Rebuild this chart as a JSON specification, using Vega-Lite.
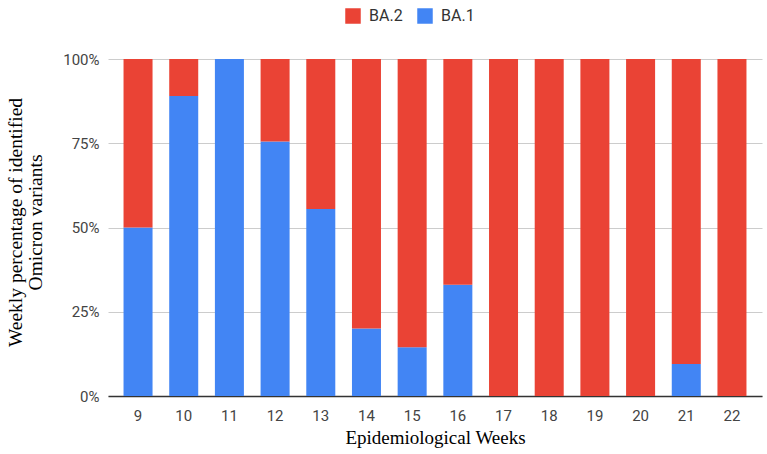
{
  "$schema": "https://vega.github.io/schema/vega-lite/v6.json",
  "width": 654,
  "height": 337,
  "autosize": {"type": "none"},
  "padding": {"left": 108, "top": 59, "right": 5, "bottom": 58},
  "background": "white",
  "data": {
    "values": [
      {"week": "9", "variant": "BA.1", "share": 0.50},
      {"week": "9", "variant": "BA.2", "share": 0.50},
      {"week": "10", "variant": "BA.1", "share": 0.89},
      {"week": "10", "variant": "BA.2", "share": 0.11},
      {"week": "11", "variant": "BA.1", "share": 1.00},
      {"week": "11", "variant": "BA.2", "share": 0.00},
      {"week": "12", "variant": "BA.1", "share": 0.755},
      {"week": "12", "variant": "BA.2", "share": 0.245},
      {"week": "13", "variant": "BA.1", "share": 0.555},
      {"week": "13", "variant": "BA.2", "share": 0.445},
      {"week": "14", "variant": "BA.1", "share": 0.20},
      {"week": "14", "variant": "BA.2", "share": 0.80},
      {"week": "15", "variant": "BA.1", "share": 0.145},
      {"week": "15", "variant": "BA.2", "share": 0.855},
      {"week": "16", "variant": "BA.1", "share": 0.33},
      {"week": "16", "variant": "BA.2", "share": 0.67},
      {"week": "17", "variant": "BA.1", "share": 0.00},
      {"week": "17", "variant": "BA.2", "share": 1.00},
      {"week": "18", "variant": "BA.1", "share": 0.00},
      {"week": "18", "variant": "BA.2", "share": 1.00},
      {"week": "19", "variant": "BA.1", "share": 0.00},
      {"week": "19", "variant": "BA.2", "share": 1.00},
      {"week": "20", "variant": "BA.1", "share": 0.00},
      {"week": "20", "variant": "BA.2", "share": 1.00},
      {"week": "21", "variant": "BA.1", "share": 0.095},
      {"week": "21", "variant": "BA.2", "share": 0.905},
      {"week": "22", "variant": "BA.1", "share": 0.00},
      {"week": "22", "variant": "BA.2", "share": 1.00}
    ]
  },
  "mark": {"type": "bar"},
  "encoding": {
    "x": {
      "field": "week",
      "type": "ordinal",
      "sort": null,
      "scale": {"paddingInner": 0.365, "paddingOuter": 0.34},
      "axis": {
        "title": "Epidemiological Weeks",
        "titleFontSize": 19,
        "labelAngle": 0,
        "ticks": false,
        "domainColor": "#333333",
        "domainWidth": 1.5,
        "labelPadding": 12,
        "titlePadding": 5
      }
    },
    "y": {
      "field": "share",
      "type": "quantitative",
      "stack": "zero",
      "scale": {"domain": [0, 1], "nice": false},
      "axis": {
        "title": ["Weekly percentage of identified", "Omicron variants"],
        "titleFontSize": 19.5,
        "format": ".0%",
        "values": [0, 0.25, 0.5, 0.75, 1],
        "ticks": false,
        "domain": false,
        "labelPadding": 9,
        "titleAngle": -90,
        "titleX": -102,
        "titleY": 163,
        "titleAlign": "center",
        "titleBaseline": "top",
        "titleLineHeight": 20
      }
    },
    "color": {
      "field": "variant",
      "type": "nominal",
      "scale": {"domain": ["BA.2", "BA.1"], "range": ["#EA4335", "#4285F4"]},
      "legend": {
        "title": null,
        "orient": "none",
        "direction": "horizontal",
        "legendX": 237,
        "legendY": -51,
        "symbolType": "square",
        "symbolSize": 240,
        "symbolStrokeWidth": 0,
        "labelFont": "Roboto",
        "labelFontSize": 16,
        "labelColor": "#333333",
        "columnPadding": 14,
        "labelOffset": 8
      }
    },
    "order": {"field": "variant", "sort": "ascending"}
  },
  "config": {
    "view": {"stroke": null},
    "axis": {
      "labelFont": "Roboto",
      "labelFontSize": 15,
      "labelColor": "#444444",
      "titleFont": "Liberation Serif",
      "titleFontWeight": "normal",
      "titleColor": "#000000",
      "gridColor": "#cccccc"
    },
    "axisX": {"grid": false},
    "axisY": {"grid": true}
  }
}
